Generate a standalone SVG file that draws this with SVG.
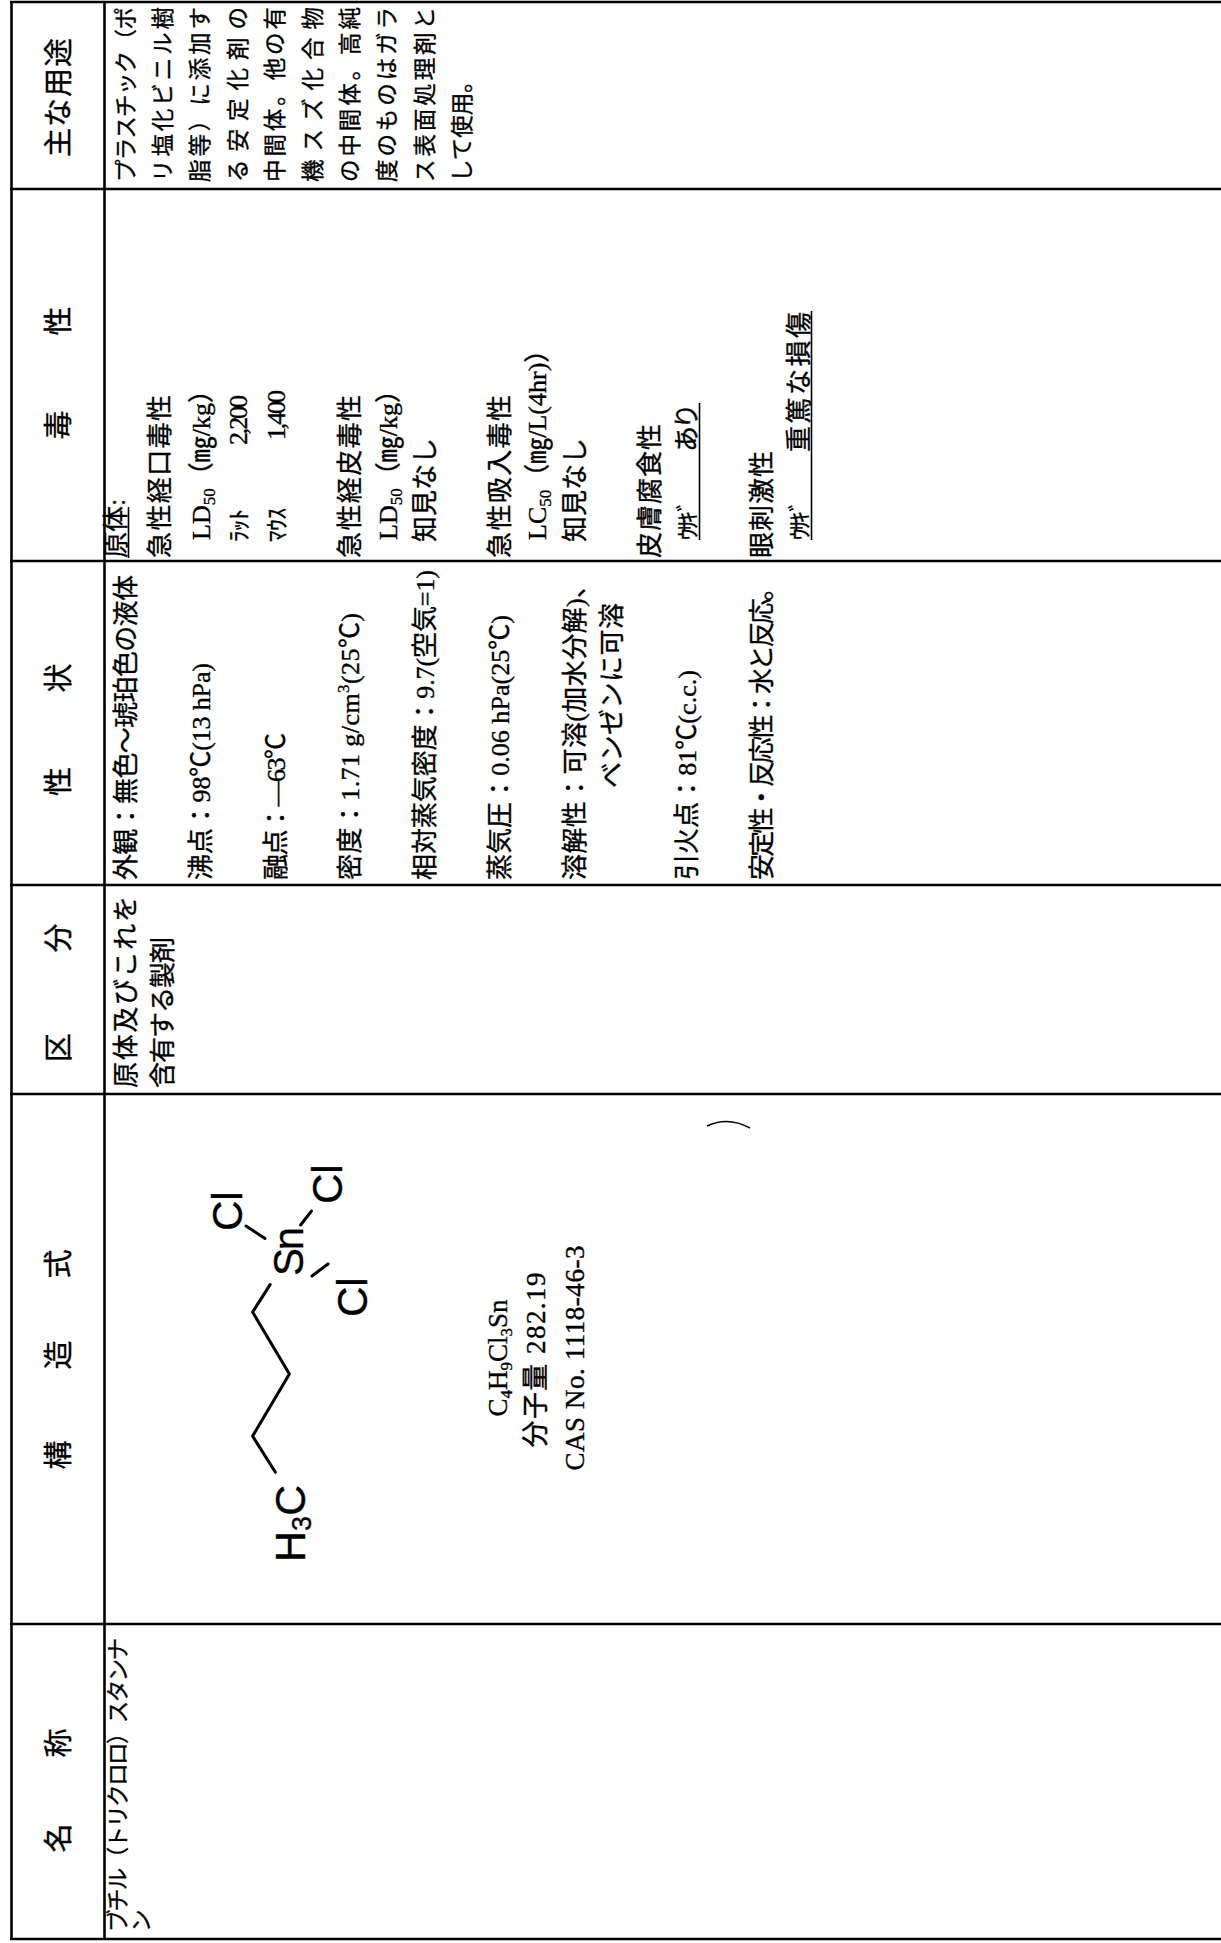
<svg xmlns="http://www.w3.org/2000/svg" width="1221" height="1943" viewBox="0 0 1221 1943">
<style>
.ln{stroke:#000;stroke-width:2.6;fill:none}
.bd{stroke:#000;stroke-width:3;fill:none;stroke-linecap:round;stroke-linejoin:round}
.ul{stroke:#000;stroke-width:1.6;fill:none}
text{fill:#000;stroke:#000;stroke-width:0.35}
.h{font-family:"Noto Sans CJK JP",sans-serif;font-size:29px;text-anchor:middle}
.b{font-family:"Liberation Serif","Noto Sans CJK JP",serif;font-size:26px}
.g{font-family:"Noto Sans CJK JP",sans-serif;font-size:22.5px}
.n{font-size:22.5px}
.k{font-family:"Noto Sans CJK JP",sans-serif;font-size:23px}
.s{font-family:"Liberation Sans","Noto Sans CJK JP",sans-serif;font-size:42px}
.f{font-size:27px;text-anchor:middle}
.sb{font-size:17px}
</style>
<rect width="1221" height="1943" fill="#fff"/>
<g id="table-grid">
<path class="ln" d="M11.5,2V1939M104.5,2V1939M10,2H1221M10,189H1221M10,561H1221M10,885H1221M10,1094H1221M10,1624H1221M10,1939H1221"/>
</g>
<g id="connectors">
<path class="bd" d="M275.4,1472.2L252.6,1436.1L289.4,1374.1L252.6,1312.1L270.1,1284.6"/>
<path class="bd" d="M246,1226L265,1238.5"/>
<path class="bd" d="M300.6,1225L311.5,1211"/>
<path class="bd" d="M312,1276L328,1264"/>
<path d="M707,1126Q728,1116 750,1128" stroke="#000" stroke-width="1.5" fill="none"/>
</g>
<g transform="matrix(0,-1,1,0,0,1943)">
<g id="headers">
<text class="h" x="105" y="69">名</text>
<text class="h" x="200" y="69">称</text>
<text class="h" x="488" y="69">構</text>
<text class="h" x="588" y="69">造</text>
<text class="h" x="679" y="69">式</text>
<text class="h" x="895.5" y="69">区</text>
<text class="h" x="1005" y="69">分</text>
<text class="h" x="1161.5" y="69">性</text>
<text class="h" x="1265" y="69">状</text>
<text class="h" x="1518" y="69">毒</text>
<text class="h" x="1622" y="69">性</text>
<text class="h" x="1845.5" y="69" textLength="119">主な用途</text>
</g>
<g id="cell-name">
<text class="g n" x="11" y="126" textLength="294">ブチル（トリクロロ）スタンナ</text>
<text class="g n" x="11" y="149">ン</text>
</g>
<g id="cell-structure">
<text class="s" x="381" y="305" style="font-size:43px">H<tspan style="font-size:27px" dy="6">3</tspan><tspan dy="-6">C</tspan></text>
<text class="s" x="667" y="303" textLength="49">Sn</text>
<text class="s" x="712" y="242">Cl</text>
<text class="s" x="739" y="342">Cl</text>
<text class="s" x="626" y="367">Cl</text>
<text class="b f" x="585" y="507">C<tspan class="sb" dy="5">4</tspan><tspan dy="-5">H</tspan><tspan class="sb" dy="5">9</tspan><tspan dy="-5">Cl</tspan><tspan class="sb" dy="5">3</tspan><tspan dy="-5">Sn</tspan></text>
<text class="b f" x="583" y="545" textLength="175">分子量 282.19</text>
<text class="b f" x="585" y="584" textLength="225">CAS No. 1118-46-3</text>
</g>
<g id="cell-class">
<text class="b" x="855" y="135" textLength="192">原体及びこれを</text>
<text class="b" x="855" y="172" textLength="151">含有する製剤</text>
</g>
<g id="cell-properties">
<text class="b" x="1063" y="135" textLength="305">外観：無色～琥珀色の液体</text>
<text class="b" x="1063" y="210" textLength="217">沸点：98℃(13 hPa)</text>
<text class="b" x="1063" y="285" textLength="147">融点：—63℃</text>
<text class="b" x="1063" y="359" textLength="267">密度：1.71 g/cm<tspan class="sb" dy="-10">3</tspan><tspan dy="10">(25℃)</tspan></text>
<text class="b" x="1063" y="434" textLength="310">相対蒸気密度：9.7(空気=1)</text>
<text class="b" x="1063" y="509" textLength="265">蒸気圧：0.06 hPa(25℃)</text>
<text class="b" x="1063" y="584" textLength="308">溶解性：可溶(加水分解)、</text>
<text class="b" x="1155" y="621" textLength="185">ベンゼンに可溶</text>
<text class="b" x="1063" y="696" textLength="210">引火点：81℃(c.c.)</text>
<text class="b" x="1063" y="771" textLength="305">安定性・反応性：水と反応。</text>
</g>
<g id="cell-toxicity">
<text class="b" x="1385" y="125">原体:</text>
<text class="b" x="1385" y="169" textLength="163">急性経口毒性</text>
<text class="b" x="1403" y="210">LD<tspan class="sb" dy="5">50</tspan><tspan dy="-5">（㎎/kg）</tspan></text>
<text class="k" x="1401" y="247" textLength="33">ﾗｯﾄ</text>
<text class="b" x="1498" y="247" textLength="50">2,200</text>
<text class="k" x="1401" y="285" textLength="34">ﾏｳｽ</text>
<text class="b" x="1503" y="285" textLength="50">1,400</text>
<text class="b" x="1385" y="359" textLength="163">急性経皮毒性</text>
<text class="b" x="1403" y="397">LD<tspan class="sb" dy="5">50</tspan><tspan dy="-5">（㎎/kg）</tspan></text>
<text class="b" x="1401" y="434">知見なし</text>
<text class="b" x="1385" y="509" textLength="163">急性吸入毒性</text>
<text class="b" x="1403" y="546">LC<tspan class="sb" dy="5">50</tspan><tspan dy="-5">（㎎/L(4hr)）</tspan></text>
<text class="b" x="1401" y="584">知見なし</text>
<text class="b" x="1385" y="659" textLength="134">皮膚腐食性</text>
<text class="k" x="1403" y="696" textLength="40">ｳｻｷﾞ</text>
<text class="b" x="1491" y="696" textLength="49">あり</text>
<text class="b" x="1385" y="771" textLength="107">眼刺激性</text>
<text class="k" x="1403" y="808" textLength="40">ｳｻｷﾞ</text>
<text class="b" x="1491" y="808" textLength="140">重篤な損傷</text>
<path class="ul" d="M1385,128.5H1436M1403,699.5H1540M1403,811.5H1632"/>
</g>
<g id="cell-use">
<text class="g" x="1761" y="133.5" textLength="175">プラスチック（ポ</text>
<text class="g" x="1761" y="170.9" textLength="175">リ塩化ビニル樹</text>
<text class="g" x="1761" y="208.3" textLength="175">脂等）に添加す</text>
<text class="g" x="1761" y="245.7" textLength="175">る安定化剤の</text>
<text class="g" x="1761" y="283.1" textLength="175">中間体。他の有</text>
<text class="g" x="1761" y="320.5" textLength="175">機スズ化合物</text>
<text class="g" x="1761" y="357.9" textLength="175">の中間体。高純</text>
<text class="g" x="1761" y="395.3" textLength="175">度のものはガラ</text>
<text class="g" x="1761" y="432.7" textLength="175">ス表面処理剤と</text>
<text class="g" x="1761" y="470.1">して使用。</text>
</g>
</g>
</svg>
